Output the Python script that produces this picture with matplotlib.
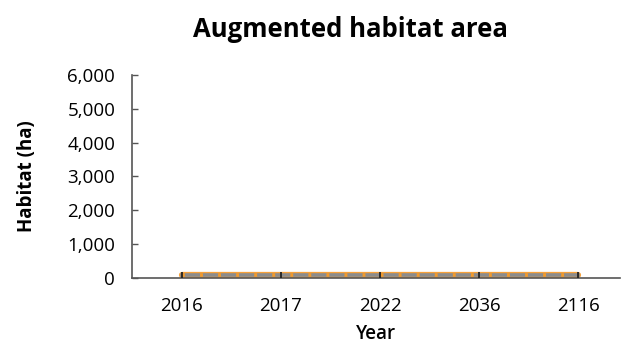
import matplotlib.pyplot as plt

# 数据
years = ["2016", "2017", "2022", "2036", "2116"]
habitat_base = [100, 100, 100, 100, 100]
habitat_aug = [100, 100, 100, 100, 100]

plt.rcParams['font.family'] = ['Open Sans', 'DejaVu Sans']

fig = plt.figure(figsize=(6.25, 3.47), dpi=100)
ax = fig.add_axes([0.211, 0.199, 0.781, 0.585])

x = list(range(len(years)))
ax.plot(x, habitat_aug, color='#f7a13a', lw=4.5, solid_capstyle='round', zorder=2)
ax.plot(x, habitat_base, color='#8c8c8c', lw=2.6, zorder=3)
ax.plot(x, habitat_aug, color='#f39a2b', lw=2.6, dashes=(0.8, 4.2), zorder=4)
ax.plot(x, habitat_base, ls='none', marker='|', ms=5, mew=1.3, color='#222222', zorder=5)

ax.set_xlim(-0.505, 4.424)
ax.set_ylim(0, 6000)
ax.set_yticks(range(0, 6001, 1000))
ax.set_yticklabels([f"{v:,}" for v in range(0, 6001, 1000)])
ax.set_xticks(x)
ax.set_xticklabels(years)

for s in ['top', 'right']:
    ax.spines[s].set_visible(False)
for s in ['left', 'bottom']:
    ax.spines[s].set_color('#555555')
    ax.spines[s].set_linewidth(1.2)

ax.tick_params(axis='y', direction='in', length=4, width=1, color='#555555', labelsize=13.5, pad=12)
ax.tick_params(axis='x', length=0, labelsize=13.5, pad=14)

fig.text(0.56, 0.915, "Augmented habitat area", fontsize=18.5, fontweight='bold', ha='center', va='center')
ax.set_xlabel("Year", fontsize=13.5, fontweight='semibold', labelpad=6)
ax.set_ylabel("Habitat (ha)", fontsize=13.5, fontweight='bold', labelpad=22)

fig.savefig("out.png", dpi=100)
